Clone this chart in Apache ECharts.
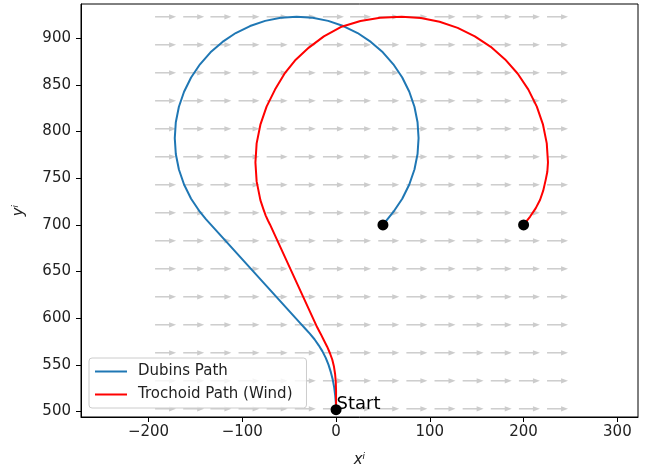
<!DOCTYPE html>
<html>
<head>
<meta charset="utf-8">
<script src="https://cdn.jsdelivr.net/npm/echarts@6/dist/echarts.min.js"></script>
<style>
  html, body { margin: 0; padding: 0; background: #fff; }
  #myChart { width: 652px; height: 473px; }
</style>
</head>
<body>
<div id="myChart"></div>
<script>
  // path samples, [x, y]
  var dubinsPath = [
    [0, 502], [-0.3, 510], [-1, 518], [-2, 526], [-3.5, 534], [-5.5, 542], [-8, 550],
    [-11, 557.5], [-14.5, 564.5], [-18.5, 571], [-23, 577.5], [-28, 583.5], [-33, 589],
    [-38.5, 595], [-138.6, 706], [-145.1, 713.9], [-154.6, 728], [-162.1, 743.3],
    [-167.6, 759.4], [-170.9, 776], [-172, 793], [-170.9, 810], [-167.6, 826.6],
    [-162.1, 842.7], [-154.6, 858], [-145.1, 872.1], [-133.9, 884.9], [-121.1, 896.1],
    [-107, 905.6], [-91.7, 913.1], [-75.6, 918.6], [-59, 921.9], [-42, 923], [-25, 921.9],
    [-8.4, 918.6], [7.7, 913.1], [23, 905.6], [37.1, 896.1], [49.9, 884.9], [61.1, 872.1],
    [70.6, 858], [78.1, 842.7], [83.6, 826.6], [86.9, 810], [88, 793], [86.9, 776],
    [83.6, 759.4], [78.1, 743.3], [70.6, 728], [61.1, 713.9], [50, 700]
  ];
  var trochoidPath = [
    [0, 502], [0, 512], [0, 522], [-0.3, 532], [-1, 540], [-2.2, 548], [-4, 555.5],
    [-6.5, 562.5], [-9.5, 569.5], [-13, 576.5], [-16.5, 583.5], [-20, 590], [-70.5, 700.5],
    [-72.5, 704.5], [-75, 710], [-77.5, 717], [-80.7, 726.6], [-84.7, 746.6], [-86, 767],
    [-84.7, 787.4], [-80.7, 807.4], [-74.1, 826.7], [-65.1, 845], [-55, 862], [-43, 877],
    [-29, 890], [-13, 902], [5, 912], [26, 918.5], [47, 922], [70, 923], [90.4, 921.7],
    [110.4, 917.7], [129.7, 911.1], [148, 902.1], [165, 890.8], [180.3, 877.3], [193.8, 862],
    [205.1, 845], [214.1, 826.7], [220.7, 807.4], [224.7, 787.4], [226, 767], [225.3, 757],
    [223.5, 748], [221, 737], [217.6, 727], [213, 718], [207, 709], [200, 700]
  ];
  var startPoint = [0, 502];
  var goalPoints = [[50, 700], [200, 700]];

  // wind field grid (arrow tails)
  var windX = [-193, -163, -134, -104, -74, -44, -14, 15, 45, 75, 105, 135, 165, 195, 225];
  var windY = [503, 533, 563, 593, 623, 653, 683, 713, 743, 773, 803, 833, 863, 893, 923];

  var xTicks = [-200, -100, 0, 100, 200, 300];
  var yTicks = [500, 550, 600, 650, 700, 750, 800, 850, 900];

  var windData = [];
  for (var i = 0; i < windY.length; i++) {
    for (var j = 0; j < windX.length; j++) {
      windData.push([windX[j], windY[i]]);
    }
  }

  var font = 'DejaVu Sans';
  var myChart = echarts.init(document.getElementById('myChart'));
  var option = {
    animation: false,
    backgroundColor: '#fff',
    textStyle: { fontFamily: font },
    grid: {
      left: 81, right: 14, top: 4, bottom: 55,
      show: true, borderColor: '#000', borderWidth: 1
    },
    legend: {
      data: ['Dubins Path', 'Trochoid Path (Wind)'],
      orient: 'vertical',
      left: 89, top: 358,
      icon: 'rect',
      itemWidth: 32, itemHeight: 2, itemGap: 8,
      padding: [6, 14, 6, 6],
      borderColor: '#cccccc', borderWidth: 1, borderRadius: 3,
      backgroundColor: 'rgba(255,255,255,0.8)',
      textStyle: { fontSize: 15, color: '#222', fontFamily: font, padding: [0, 0, 0, 6] }
    },
    xAxis: {
      type: 'value',
      min: -272, max: 322,
      name: 'xⁱ',
      nameLocation: 'middle',
      nameGap: 36,
      nameTextStyle: { fontSize: 15, fontStyle: 'italic', color: '#222', fontFamily: font },
      axisLine: { onZero: false, lineStyle: { color: '#000', width: 1 } },
      axisTick: { length: 5, lineStyle: { color: '#000' }, customValues: xTicks },
      axisLabel: { customValues: xTicks, fontSize: 15, color: '#222', margin: 8, fontFamily: font,
        formatter: function (v) { return v < 0 ? '\u2212' + Math.abs(v) : String(v) } },
      splitLine: { show: false }
    },
    yAxis: {
      type: 'value',
      min: 494.2, max: 936.7,
      name: 'yⁱ',
      nameLocation: 'middle',
      nameGap: 54,
      nameTextStyle: { fontSize: 15, fontStyle: 'italic', color: '#222', fontFamily: font },
      axisLine: { show: true, onZero: false, lineStyle: { color: '#000', width: 1 } },
      axisTick: { show: true, length: 5, lineStyle: { color: '#000' }, customValues: yTicks },
      axisLabel: { customValues: yTicks, fontSize: 15, color: '#222', margin: 10, fontFamily: font },
      splitLine: { show: false }
    },
    series: [
      {
        name: 'wind',
        type: 'custom',
        z: 1,
        data: windData,
        renderItem: function (params, api) {
          var p = api.coord([api.value(0), api.value(1)]);
          var len = 21, head = 7, hw = 2.6;
          return {
            type: 'group',
            children: [
              { type: 'line', shape: { x1: p[0], y1: p[1], x2: p[0] + len - head + 1, y2: p[1] },
                style: { stroke: '#cccccc', lineWidth: 1.5 } },
              { type: 'polygon', shape: { points: [[p[0] + len - head, p[1] - hw], [p[0] + len, p[1]], [p[0] + len - head, p[1] + hw]] },
                style: { fill: '#cccccc' } }
            ]
          };
        }
      },
      {
        name: 'Dubins Path',
        type: 'line',
        z: 3,
        data: dubinsPath,
        showSymbol: false,
        color: '#1f77b4',
        lineStyle: { color: '#1f77b4', width: 2, join: 'round' }
      },
      {
        name: 'Trochoid Path (Wind)',
        type: 'line',
        z: 4,
        data: trochoidPath,
        showSymbol: false,
        color: '#ff0000',
        lineStyle: { color: '#ff0000', width: 2, join: 'round' }
      },
      {
        name: 'points',
        type: 'scatter',
        z: 5,
        symbolSize: 11,
        itemStyle: { color: '#000', opacity: 1 },
        data: [
          { value: startPoint, label: { show: true, formatter: 'Start', position: [6, 9], align: 'left', verticalAlign: 'bottom',
            fontSize: 18, color: '#000', fontFamily: font } },
          goalPoints[0],
          goalPoints[1]
        ]
      }
    ]
  };
  myChart.setOption(option);
</script>
</body>
</html>
